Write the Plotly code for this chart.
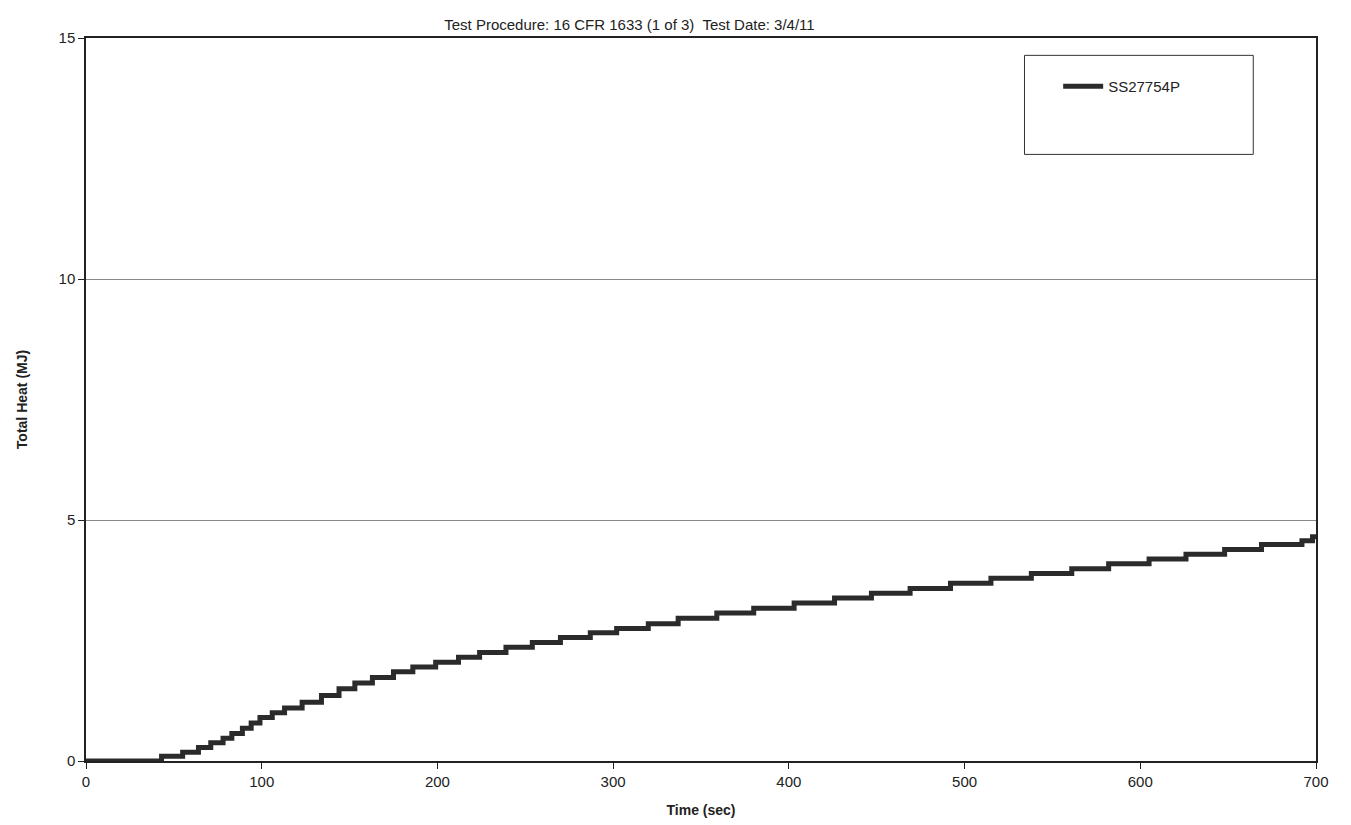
import plotly.graph_objects as go

# Step times (sec) and total heat levels (MJ)
time_sec = [0, 43, 55, 64, 71, 78, 83, 89, 94, 99, 106, 113, 123, 134, 144, 153, 163,
            175, 186, 199, 212, 224, 239, 254, 270, 287, 302, 320, 337, 359, 380,
            403, 426, 447, 469, 492, 515, 538, 561, 582, 605, 626, 648, 669, 692,
            698, 700]
total_heat = [0.0, 0.1, 0.18, 0.28, 0.38, 0.47, 0.57, 0.68, 0.79, 0.9, 1.0, 1.1, 1.22,
              1.36, 1.5, 1.62, 1.73, 1.85, 1.95, 2.05, 2.15, 2.25, 2.36, 2.46, 2.56,
              2.66, 2.75, 2.85, 2.96, 3.07, 3.17, 3.28, 3.38, 3.48, 3.58, 3.69, 3.79,
              3.89, 3.99, 4.09, 4.19, 4.29, 4.39, 4.49, 4.57, 4.65, 4.65]
series_name = "SS27754P"
x_ticks = [0, 100, 200, 300, 400, 500, 600, 700]
y_ticks = [0, 5, 10, 15]

FONT = "Liberation Sans, Arial, sans-serif"

fig = go.Figure()
fig.add_trace(go.Scatter(
    x=time_sec, y=total_heat, mode="lines", line_shape="hv",
    line=dict(color="#2b2b2b", width=5), name=series_name,
))

fig.update_layout(
    width=1351, height=825,
    margin=dict(l=78, r=43, t=30, b=72),
    paper_bgcolor="white", plot_bgcolor="white",
    font=dict(family=FONT, size=15, color="#222"),
    title=dict(text="Test Procedure: 16 CFR 1633 (1 of 3)  Test Date: 3/4/11",
               x=0.46, xanchor="center", y=0.98, yanchor="middle",
               font=dict(size=15, family=FONT, color="#222")),
    showlegend=True,
    legend=dict(x=0.842, y=0.933, xanchor="center", yanchor="middle",
                bgcolor="rgba(0,0,0,0)", borderwidth=0,
                font=dict(size=15, family=FONT, color="#222"),
                itemwidth=40),
    shapes=[dict(type="rect", xref="paper", yref="paper",
                 x0=0.763, x1=0.949, y0=0.839, y1=0.976,
                 line=dict(color="#333", width=1), fillcolor="rgba(0,0,0,0)")],
)

fig.update_xaxes(
    range=[0, 700], tickvals=x_ticks, showgrid=False, zeroline=False,
    showline=True, linecolor="#222", linewidth=1.5, mirror=True,
    ticks="outside", ticklen=6, tickcolor="#222",
    tickfont=dict(size=15, family=FONT),
    title=dict(text="<b>Time (sec)</b>", font=dict(size=14, family=FONT), standoff=16),
)
fig.update_yaxes(
    range=[0, 15], tickvals=y_ticks, showgrid=True, gridcolor="#8a8a8a", gridwidth=1,
    zeroline=False, showline=True, linecolor="#222", linewidth=1.5, mirror=True,
    ticks="outside", ticklen=6, tickcolor="#222",
    tickfont=dict(size=15, family=FONT),
    title=dict(text="<b>Total Heat (MJ)</b>", font=dict(size=14, family=FONT), standoff=28),
)

fig.write_html("out.html")
